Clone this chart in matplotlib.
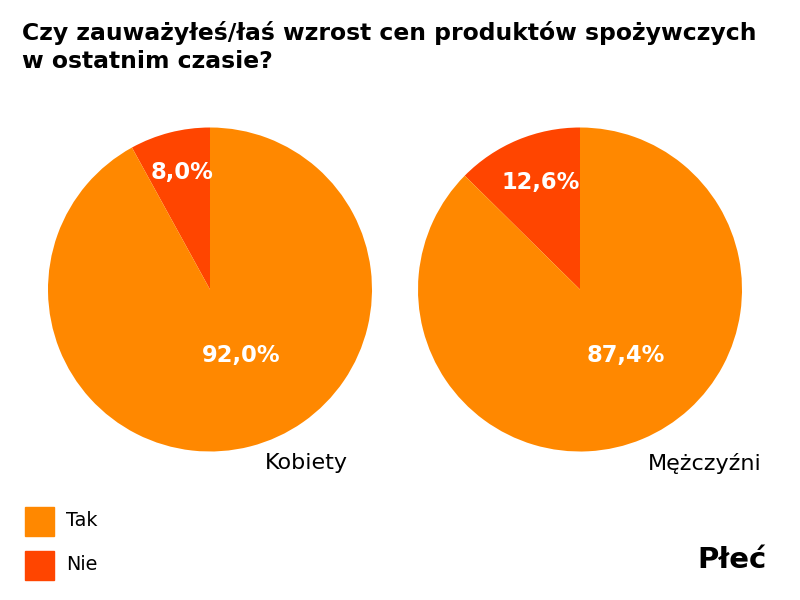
import matplotlib.pyplot as plt

# dane
grupy = ['Kobiety', 'Mężczyźni']
odpowiedzi = ['Nie', 'Tak']
nie = [8.0, 12.6]
tak = [92.0, 87.4]
kolory = ['#FF4500', '#FF8800']

plt.rcParams['font.family'] = ['DejaVu Sans']

fig = plt.figure(figsize=(8, 6), dpi=100)
W, H = 800, 600


def osie_px(x, y, w, h):
    # x, y = lewy gorny rog w pikselach
    return fig.add_axes([x / W, 1 - (y + h) / H, w / W, h / H])


# pozycje etykiet procentowych (w jednostkach promienia)
poz_nie = [(-0.17, 0.72), (-0.24, 0.66)]
poz_tak = [(0.195, -0.41), (0.28, -0.41)]
srodki_x = [210, 580]
r = 162

for i, g in enumerate(grupy):
    ax = osie_px(srodki_x[i] - r, 289.5 - r, 2 * r, 2 * r)
    wartosci = [nie[i], tak[i]]
    ax.pie(wartosci, colors=kolory, startangle=90, counterclock=True,
           radius=1, wedgeprops=dict(linewidth=0))
    ax.set_xlim(-1, 1)
    ax.set_ylim(-1, 1)
    ax.set_aspect('equal')
    ax.axis('off')
    fmt = lambda v: ('%.1f%%' % v).replace('.', ',')
    ax.text(poz_nie[i][0], poz_nie[i][1], fmt(nie[i]), color='white',
            fontsize=16.3, fontweight='bold', ha='center', va='center')
    ax.text(poz_tak[i][0], poz_tak[i][1], fmt(tak[i]), color='white',
            fontsize=16.3, fontweight='bold', ha='center', va='center')

# podpisy grup
fig.text(348 / W, 1 - 463 / H, grupy[0], fontsize=16, ha='right', va='center')
fig.text(762 / W, 1 - 463 / H, grupy[1], fontsize=16, ha='right', va='center')

# tytul
fig.text(22 / W, 1 - 33 / H, 'Czy zauważyłeś/łaś wzrost cen produktów spożywczych',
         fontsize=16.9, fontweight='heavy', ha='left', va='center')
fig.text(22 / W, 1 - 62 / H, 'w ostatnim czasie?',
         fontsize=16.9, fontweight='heavy', ha='left', va='center')

# legenda
leg_y = [521, 565]
leg_kol = ['#FF8800', '#FF4500']
leg_txt = ['Tak', 'Nie']
for y, k, t in zip(leg_y, leg_kol, leg_txt):
    fig.patches.append(plt.Rectangle((25 / W, 1 - (y + 14.5) / H), 29 / W, 29 / H,
                                     transform=fig.transFigure, color=k))
    fig.text(66 / W, 1 - y / H, t, fontsize=13.8, ha='left', va='center')

fig.text(767 / W, 1 - 560 / H, 'Płeć', fontsize=21, fontweight='bold',
         ha='right', va='center')

fig.savefig('out.png', dpi=100)
